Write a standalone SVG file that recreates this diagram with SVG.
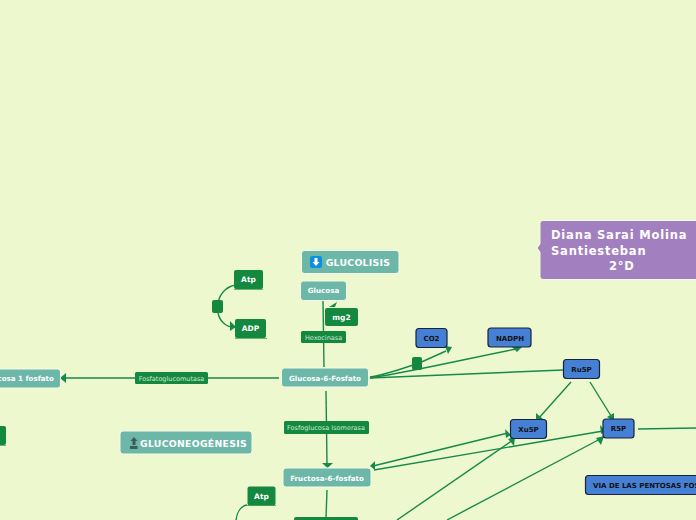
<svg xmlns="http://www.w3.org/2000/svg" width="696" height="520" viewBox="0 0 696 520">
<style>
text{font-family:"DejaVu Sans",sans-serif;text-anchor:middle}
.c{fill:none;stroke:#17894a;stroke-width:1.4}
.teal{fill:#6cb7a8;stroke:#f4fbe8;stroke-width:1}
.teal2{fill:#6cb7a8}
.tt{fill:#fff;font-weight:700;font-size:7.100px}
.h{fill:#fff;font-weight:700;font-size:9.300px;letter-spacing:.3px}
.g{fill:#14883f}
.lab{fill:#14883f}
.lt{fill:#cfe8d5;font-size:6.500px}
.gt{fill:#fff;font-weight:700;font-size:7.500px}
.u{fill:none;stroke:#14883f;stroke-width:1;opacity:.6}
.b{fill:#4580d4;stroke:#16233a;stroke-width:1.2}
.bt{fill:#111;font-weight:700;font-size:7px}
.a{fill:#17894a}
</style>
<rect width="696" height="520" fill="#eef8ce"/>
<g id="connectors">
<path class="c" d="M218 303C220 292 228 286 236 285"/>
<path class="c" d="M218 313C220 322 227 328 236 327"/>
<path class="a" d="M230 321l6 6l-6 4z"/>
<path class="c" d="M323 301L324 367"/>
<path class="a" d="M329 307l8-5l-2 5z"/>
<path class="c" d="M279 378L65 378"/>
<path class="a" d="M60 378l6-5v10z"/>
<path class="c" d="M326 391L327 464"/>
<path class="a" d="M322 463h11l-5.500 5z"/>
<path class="c" d="M370 377C385 375 400 369 417 364L446 351"/>
<path class="a" d="M445 346l7 1l-4 7z"/>
<path class="c" d="M370 378C420 370 470 358 516 349"/>
<path class="a" d="M512 347l10 0l-5 5z"/>
<path class="c" d="M370 378L563 370"/>
<path class="c" d="M571 382L538 419"/>
<path class="a" d="M536 421l0-8l7 6z"/>
<path class="c" d="M590 382L613 419"/>
<path class="a" d="M614 421l-7-4l7-4z"/>
<path class="c" d="M373 466L508 433"/>
<path class="a" d="M511 435l-6-6l1 9z"/>
<path class="a" d="M370 466l5-5l0 9z"/>
<path class="c" d="M374 470L603 431"/>
<path class="a" d="M606 431l-6-6l1 9z"/>
<path class="c" d="M397 520L513 440"/>
<path class="a" d="M515 437l-1 9l-6-7z"/>
<path class="c" d="M447 520L602 438"/>
<path class="a" d="M604 436l-3 9l-5-7z"/>
<path class="c" d="M638 429L696 428"/>
<path class="c" d="M327 490L326 518"/>
<path class="c" d="M247 505C241 506 237 512 236 520"/>
</g>
<g id="n-title"><rect class="teal2" x="301.500" y="250.500" width="97.500" height="23" rx="3" stroke="#f4fbe8"/><rect x="310" y="256" width="12" height="12" rx="2" fill="#0d8fe0"/><path d="M314.500 258h3v4h2l-3.500 4l-3.500-4h2z" fill="#fff"/><text class="h" x="358" y="266">GLUCOLISIS</text></g>
<g id="n-glucosa"><rect class="teal" x="300.500" y="281" width="46" height="19.500" rx="3"/><text class="tt" x="323.500" y="293">Glucosa</text></g>
<g id="n-atp1"><rect class="g" x="234" y="270" width="29" height="19" rx="2"/><path class="u" d="M234 289.500H263"/><text class="gt" x="248.500" y="282">Atp</text></g>
<g id="n-adp"><rect class="g" x="235" y="319" width="31" height="19" rx="2"/><path class="u" d="M235 338.500H267"/><text class="gt" x="250.500" y="331">ADP</text></g>
<g id="n-dot1"><rect class="g" x="212" y="300" width="11" height="13" rx="2"/></g>
<g id="n-mg2"><rect class="g" x="325" y="308" width="33" height="18" rx="2"/><text class="gt" x="341.500" y="320">mg2</text></g>
<g id="n-hexo"><rect class="lab" x="301" y="331" width="45" height="12" rx="1.500"/><text class="lt" x="323.500" y="339.500">Hexocinasa</text></g>
<g id="n-g6p"><rect class="teal" x="281.500" y="368" width="87" height="19" rx="3"/><text class="tt" x="325" y="380.500">Glucosa-6-Fosfato</text></g>
<g id="n-fgm"><rect class="lab" x="135" y="372" width="73" height="12" rx="1.500"/><text class="lt" x="171.500" y="380.500">Fosfatoglucomutasa</text></g>
<g id="n-g1p"><rect class="teal" x="-30" y="369" width="90.500" height="19" rx="3"/><text class="tt" x="19" y="381">Glucosa 1 fosfato</text></g>
<g id="n-left"><rect class="g" x="-20" y="426" width="26" height="19" rx="2"/><path class="u" d="M-20 445.500H6"/></g>
<g id="n-neo"><rect class="teal2" x="120" y="431" width="132" height="23" rx="3" stroke="#f4fbe8"/><path d="M134 437l3.500 4h-2v4h-3v-4h-2z M130 446h7.500v3h-7.500z" fill="#3d5a5c"/><text class="h" x="193.500" y="446.500">GLUCONEOGÉNESIS</text></g>
<g id="n-fi"><rect class="lab" x="284" y="421" width="85" height="13" rx="1.500"/><text class="lt" x="326" y="430">Fosfoglucosa Isomerasa</text></g>
<g id="n-f6p"><rect class="teal" x="283" y="468" width="88" height="19" rx="3"/><text class="tt" x="327" y="480.500">Fructosa-6-fosfato</text></g>
<g id="n-atp2"><rect class="g" x="247.500" y="486.500" width="28" height="19" rx="2"/><path class="u" d="M247 505.500H276"/><text class="gt" x="261.500" y="498.500">Atp</text></g>
<g id="n-bottom"><rect class="g" x="294" y="517" width="64" height="12" rx="2"/></g>
<g id="n-dot2"><rect class="g" x="412" y="357" width="10" height="13" rx="2"/></g>
<g id="n-co2"><rect class="b" x="416" y="328.500" width="31" height="19" rx="3"/><text class="bt" x="431.500" y="341">CO2</text></g>
<g id="n-nadph"><rect class="b" x="488" y="328" width="43" height="19" rx="3"/><text class="bt" x="510" y="340.500">NADPH</text></g>
<g id="n-ru5p"><rect class="b" x="563.500" y="359.500" width="36" height="19" rx="3"/><text class="bt" x="581.500" y="372">Ru5P</text></g>
<g id="n-xu5p"><rect class="b" x="510.500" y="419.500" width="36" height="19" rx="3"/><text class="bt" x="528.500" y="432">Xu5P</text></g>
<g id="n-r5p"><rect class="b" x="603" y="419" width="31" height="19" rx="3"/><text class="bt" x="618.500" y="431">R5P</text></g>
<g id="n-via"><rect class="b" x="585.500" y="475.500" width="130" height="19" rx="3"/><text class="bt" x="593" y="488" style="text-anchor:start">VIA DE LAS PENTOSAS FOSFATO</text></g>
<g id="n-author"><path d="M543 220.500H700V279.500H543a3 3 0 0 1-3-3V252L537 248L540 244V223.500a3 3 0 0 1 3-3z" fill="#a280c0" stroke="#f4fbe8"/><g style="font-weight:700;font-size:11.500px;fill:#fff;letter-spacing:.8px"><text x="551" y="239" style="text-anchor:start">Diana Sarai Molina</text><text x="551" y="255" style="text-anchor:start">Santiesteban</text><text x="609" y="270" style="text-anchor:start">2°D</text></g></g>
</svg>
